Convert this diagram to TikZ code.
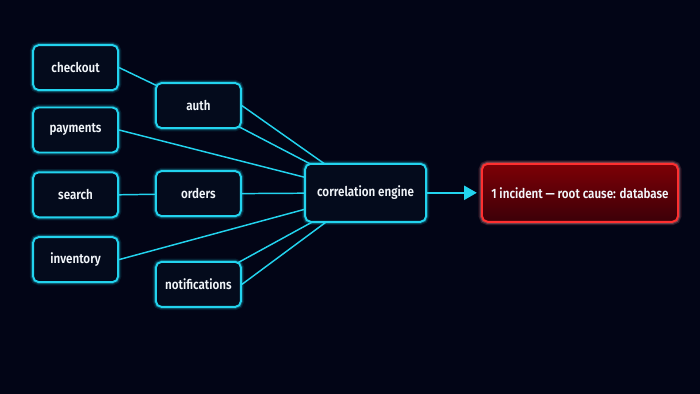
\documentclass[tikz,border=0pt]{standalone}
\usepackage{fontspec}
\setmainfont{Fira Sans}[FakeStretch=0.86,UprightFont=* Medium,BoldFont=* SemiBold]
\usetikzlibrary{arrows.meta,backgrounds}
\definecolor{NightBg}{RGB}{2,5,22}
\definecolor{BoxFill}{RGB}{4,11,28}
\definecolor{GlowCyan}{RGB}{34,211,238}
\definecolor{AlertRed}{RGB}{255,48,48}
\definecolor{AlertTop}{RGB}{125,0,6}
\definecolor{AlertBot}{RGB}{60,0,8}
\definecolor{LabelInk}{RGB}{242,246,250}
\tikzset{
	svc/.style={draw=GlowCyan,fill=BoxFill,rounded corners=4pt,line width=1.4pt,
		minimum width=2.125cm,minimum height=1.125cm,text=LabelInk,
		font=\fontsize{9.6}{11}\selectfont\bfseries,
		preaction={draw=GlowCyan,line width=4.5pt,draw opacity=0.12},
		preaction={draw=GlowCyan,line width=2.8pt,draw opacity=0.25}},
	hub/.style={svc,minimum width=3.025cm,minimum height=1.45cm},
	alert/.style={svc,draw=AlertRed,top color=AlertTop,bottom color=AlertBot,
		minimum width=4.9cm,minimum height=1.45cm,
		preaction={draw=AlertRed,line width=5pt,draw opacity=0.15},
		preaction={draw=AlertRed,line width=3pt,draw opacity=0.3}},
	wire/.style={draw=GlowCyan,line width=1.05pt},
}

\begin{document}
\begin{tikzpicture}
	\useasboundingbox (0,0) rectangle (17.5,9.85);
	% services
	\node[svc] (checkout) at (1.89,8.16) {checkout};
	\node[svc] (payments) at (1.89,6.6) {payments};
	\node[svc] (search) at (1.89,4.98) {search};
	\node[svc] (inventory) at (1.89,3.36) {inventory};
	\node[svc] (auth) at (4.96,7.21) {auth};
	\node[svc] (orders) at (4.96,5.01) {orders};
	\node[svc] (notify) at (4.96,2.74) {notifications};
	\node[hub] (engine) at (9.14,5.03) {correlation engine};
	\node[alert] (incident) at (14.5,5.03) {1 incident — root cause: database};
	% backdrop and wires, behind the boxes
	\begin{scope}[on background layer]
		\fill[NightBg] (0,0) rectangle (17.5,9.85);
		\draw[wire] (checkout.east) -- (auth.center);
		\draw[wire] (search.east) -- (orders.center);
		\draw[wire] (auth.center) -- (engine.center);
		\draw[wire] (auth.east) -- (engine.center);
		\draw[wire] (payments.east) -- (engine.center);
		\draw[wire] (orders.east) -- (engine.center);
		\draw[wire] (inventory.east) -- (engine.center);
		\draw[wire] (notify.center) -- (engine.center);
		\draw[wire] (notify.east) -- (engine.center);
	\end{scope}
	\draw[wire,line width=1.3pt,-{Triangle[length=9pt,width=10pt]}] (engine.east) -- ([xshift=-3pt]incident.west);
\end{tikzpicture}
\end{document}
